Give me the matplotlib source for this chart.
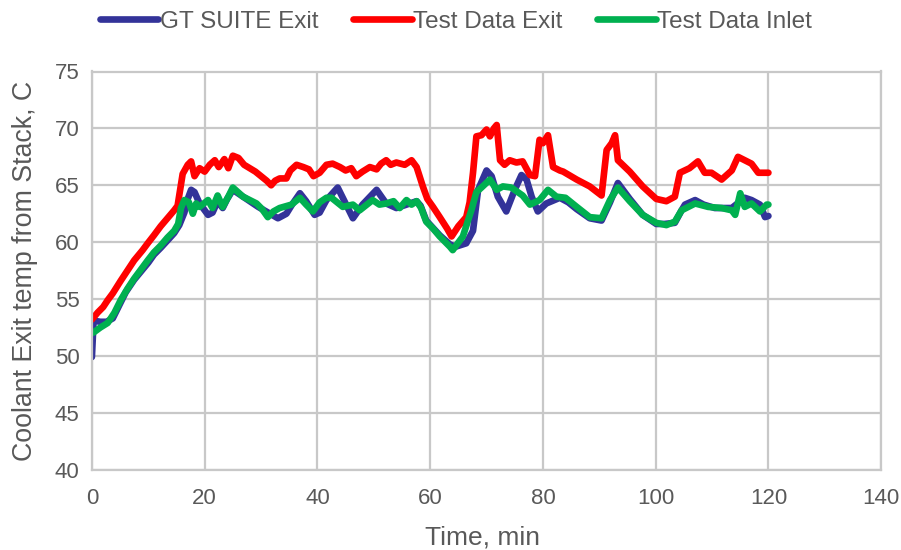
import numpy as np
import matplotlib.pyplot as plt

plt.rcParams['font.family'] = ['Liberation Sans', 'DejaVu Sans']

# GT SUITE Exit (min, C)
gt_t = [0, 0.3, 1.5, 2.6, 3.7, 4.9, 6, 7.5, 9, 10, 11, 12.2, 13.5, 14.6, 15.5, 16.4, 17, 17.6,
        18.2, 19.1, 20.6, 21.4, 22.3, 23.2, 24, 25, 26.5, 28, 29.5, 30.9, 33, 34.5, 35.5, 36.9,
        38, 39.5, 40.4, 41.6, 43.6, 44.5, 46.3, 48, 50.5, 52.2, 54, 55.8, 57.6, 58.3, 59.3, 61.7,
        63.5, 64.5, 66.4, 67.6, 68.5, 70, 70.9, 72, 73.5, 75, 76.2, 77.1, 78, 79.1, 80.6, 83,
        84.5, 86, 88.3, 90.4, 91.9, 93.3, 95.4, 97.7, 100.1, 101.6, 103.4, 104.6, 105.2, 107,
        108.5, 110.5, 113.5, 115.8, 117, 118.5, 119.4, 120]
gt_T = [49.9, 53.1, 53.0, 53.0, 53.3, 54.5, 55.6, 56.7, 57.6, 58.2, 58.9, 59.5, 60.2, 60.8, 61.5,
        62.6, 63.8, 64.6, 64.4, 63.4, 62.4, 62.6, 63.6, 63.0, 63.8, 64.6, 64.1, 63.6, 63.1, 62.7,
        62.1, 62.5, 63.3, 64.3, 63.6, 62.4, 62.6, 63.7, 64.8, 63.9, 62.1, 63.3, 64.6, 63.4, 63.0,
        63.3, 63.6, 63.2, 61.9, 60.6, 59.8, 59.6, 59.9, 61.0, 64.6, 66.3, 65.8, 64.0, 62.7, 64.6,
        65.9, 65.5, 64.0, 62.7, 63.4, 63.9, 63.5, 62.9, 62.1, 61.9, 63.5, 65.2, 63.8, 62.4, 61.6,
        61.6, 61.7, 62.8, 63.3, 63.7, 63.3, 63.0, 63.0, 63.9, 63.7, 63.3, 62.2, 62.3]

# Test Data Exit
ex_t = [0, 1, 2, 2.8, 3.7, 5.1, 6.3, 7.5, 9, 9.9, 11, 12.2, 13.4, 14.6, 15.2, 16.1, 17, 17.6,
        18.2, 19.1, 20, 20.9, 21.8, 22.5, 23.5, 24.2, 25, 26, 27, 28, 29, 30, 31, 31.8, 32.5,
        33.3, 34.5, 35.2, 36.3, 37.5, 38.5, 39.3, 40.4, 41.6, 42.7, 44, 45, 46, 46.9, 48, 49.3,
        50.5, 51.3, 52.2, 53, 54, 55.5, 56.7, 57.6, 58.7, 59.5, 60.5, 61.7, 63.0, 63.8, 65.0,
        66.4, 67.0, 67.6, 68.2, 69.1, 70, 70.6, 71.3, 71.8, 72.4, 73.2, 74.1, 75.3, 76.4, 77.7,
        78.6, 79.4, 80, 80.9, 81.8, 83.0, 83.6, 86, 88.3, 90.4, 91.3, 92.2, 92.8, 93.3, 95.4,
        97.7, 100.1, 101.9, 103.4, 104.3, 106, 107.5, 108.7, 109.9, 111.7, 113.5, 114.6, 115.8,
        117, 118.2, 119.4, 120]
ex_T = [53.2, 53.8, 54.3, 54.9, 55.5, 56.6, 57.5, 58.4, 59.3, 59.9, 60.6, 61.4, 62.1, 62.8, 63.2,
        66.0, 66.8, 67.1, 65.8, 66.5, 66.2, 66.8, 67.2, 66.6, 67.3, 66.5, 67.6, 67.4, 66.8, 66.5,
        66.2, 65.8, 65.4, 65.0, 65.4, 65.6, 65.6, 66.3, 66.8, 66.6, 66.4, 65.8, 66.1, 66.8, 66.9,
        66.6, 66.3, 66.5, 65.8, 66.2, 66.6, 66.4, 66.9, 67.2, 66.8, 67.0, 66.8, 67.2, 66.6, 64.9,
        63.8, 63.1, 62.2, 61.2, 60.5, 61.4, 62.2, 63.5, 66.1, 69.3, 69.4, 69.9, 69.3, 70.0, 70.3,
        67.2, 66.8, 67.2, 67.0, 67.1, 65.9, 65.8, 69.0, 68.7, 69.4, 66.6, 66.3, 66.2, 65.5, 64.9,
        64.1, 68.1, 68.7, 69.4, 67.2, 66.2, 64.9, 63.8, 63.6, 64.0, 66.1, 66.5, 67.1, 66.1, 66.1,
        65.5, 66.3, 67.5, 67.2, 66.9, 66.1, 66.1, 66.1]

# Test Data Inlet
in_t = [0, 0.4, 1.5, 2.8, 4, 5.1, 6.3, 7.5, 8.7, 9.9, 11, 12.2, 13.4, 14.6, 15.3, 15.8, 16.4,
        17.2, 17.9, 18.5, 19.1, 20.6, 21.4, 22.3, 23.2, 24.2, 25, 26.8, 28, 29.2, 30.2, 31.2,
        32.2, 33.3, 35.4, 36.9, 38, 39.2, 40.4, 41.6, 42.5, 44.5, 46.3, 47.5, 49.8, 51, 52.2,
        53.5, 54.6, 55.8, 56.7, 57.6, 58.4, 59.3, 60.5, 61.7, 63.5, 64, 65.8, 67.3, 68.2, 69.1,
        70.6, 71.8, 72.9, 74.4, 76.4, 77.7, 79.4, 80.9, 82.4, 84, 86, 88.3, 90.4, 91.9, 93.3,
        95.4, 97.7, 100.1, 101.9, 103.4, 104.6, 107, 109.3, 111.7, 113.5, 114.1, 115, 115.8,
        117, 118.5, 119.7, 120]
in_T = [52.0, 52.1, 52.5, 52.9, 53.8, 54.9, 55.9, 56.8, 57.6, 58.4, 59.1, 59.7, 60.4, 61.0, 61.6,
        63.0, 63.7, 63.5, 62.5, 63.4, 63.1, 63.7, 63.0, 64.1, 63.1, 64.0, 64.8, 64.0, 63.7, 63.4,
        62.9, 62.2, 62.7, 63.0, 63.3, 63.9, 63.3, 62.7, 63.5, 63.9, 63.9, 63.1, 63.3, 62.8, 63.7,
        63.3, 63.4, 63.6, 63.0, 63.7, 63.3, 63.6, 63.0, 61.8, 61.2, 60.5, 59.6, 59.3, 60.5, 62.8,
        64.4, 64.8, 65.5, 64.6, 64.9, 64.8, 64.1, 63.3, 63.7, 64.6, 64.0, 63.9, 63.1, 62.2, 62.1,
        63.7, 64.8, 63.6, 62.4, 61.7, 61.5, 61.8, 62.8, 63.4, 63.1, 63.0, 62.8, 62.4, 64.3, 63.1,
        63.4, 62.7, 63.3, 63.3]

grey = '#595959'
gridc = '#C8C8C8'

fig = plt.figure(figsize=(9.01, 5.5), dpi=100)
ax = fig.add_axes([0.102, 0.146, 0.876, 0.724])

kw = dict(linewidth=4.8, solid_joinstyle='round', solid_capstyle='round')
ax.plot(gt_t, gt_T, color='#333399', label='GT SUITE Exit', **kw)
ax.plot(ex_t, ex_T, color='#FF0000', label='Test Data Exit', **kw)
ax.plot(in_t, in_T, color='#00B050', label='Test Data Inlet', **kw)

ax.set_xlim(0, 140)
ax.set_ylim(40, 75)
ax.set_xticks(np.arange(0, 141, 20))
ax.set_yticks(np.arange(40, 76, 5))
ax.grid(True, color=gridc, linewidth=1.6)
ax.set_axisbelow(True)
for s in ax.spines.values():
    s.set_color(gridc)
    s.set_linewidth(1.6)
ax.tick_params(length=0, labelsize=16, colors=grey)
ax.tick_params(axis='x', pad=13)
ax.tick_params(axis='y', pad=9)

ax.set_xlabel('Time, min', fontsize=19, color=grey)
ax.xaxis.set_label_coords(0.495, -0.14)
ax.set_ylabel('Coolant Exit temp from Stack, C', fontsize=19.3, color=grey)
ax.yaxis.set_label_coords(-0.068, 0.5)

fig.legend(loc='upper center', bbox_to_anchor=(0.506, 1.02), ncol=3, frameon=False,
           fontsize=17.5, labelcolor=grey, handlelength=2.4, handletextpad=0.05,
           columnspacing=1.45)

fig.savefig('out.png', dpi=100)
